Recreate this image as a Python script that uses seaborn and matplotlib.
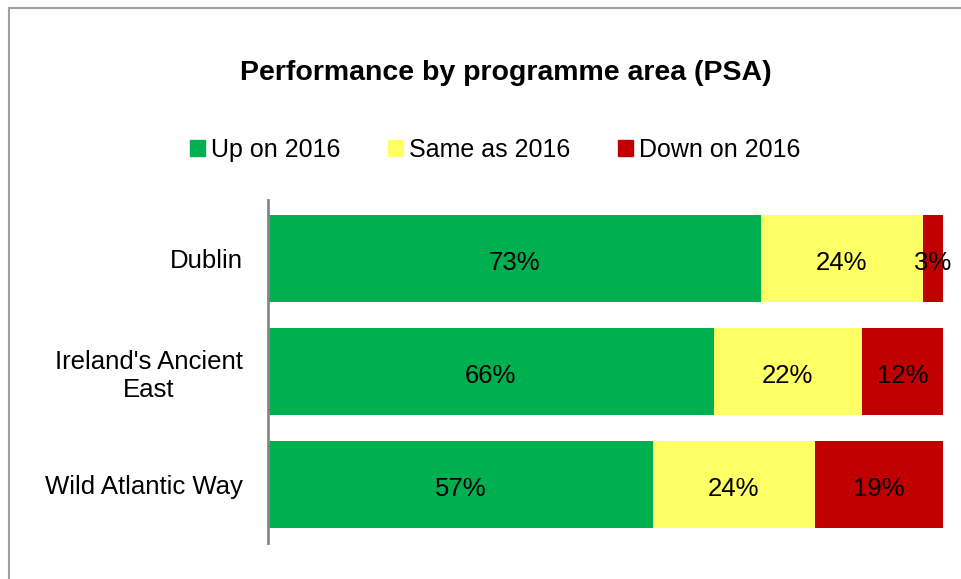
import matplotlib
matplotlib.use("Agg")
import matplotlib.pyplot as plt
import matplotlib.patches as mpatches
import pandas as pd
import seaborn as sns

regions = ["Dublin", "Ireland's Ancient\nEast", "Wild Atlantic Way"]
up = [73, 66, 57]
same = [24, 22, 24]
down = [3, 12, 19]

series_names = ["Up on 2016", "Same as 2016", "Down on 2016"]
colors = ["#00B050", "#FFFF66", "#C00000"]

sns.set_theme(style="white")
plt.rcParams["font.family"] = ["Liberation Sans", "DejaVu Sans"]
plt.rcParams["text.color"] = "black"
plt.rcParams["ytick.color"] = "black"

df = pd.DataFrame({"region": regions, "up": up, "same": same, "down": down})
df["c_up"] = df["up"]
df["c_same"] = df["up"] + df["same"]
df["c_down"] = df["c_same"] + df["down"]

fig = plt.figure(figsize=(9.61, 5.79), dpi=100)
ax = fig.add_axes([268 / 961, 1 - 543 / 579, (943 - 268) / 961, (543 - 200) / 579])

# stacked bars: draw cumulative totals back to front
for col, color in zip(["c_down", "c_same", "c_up"], colors[::-1]):
    sns.barplot(data=df, x=col, y="region", orient="h", color=color,
                width=0.77, saturation=1, ax=ax, linewidth=0)

# segment labels
for i, row in df.iterrows():
    starts = [0, row["c_up"], row["c_same"]]
    vals = [row["up"], row["same"], row["down"]]
    for s, v in zip(starts, vals):
        ax.text(s + v / 2, i + 0.04, f"{v}%", ha="center", va="center",
                fontsize=18.5, color="black")

ax.set_xlim(0, 100)
ax.set_ylim(2.515, -0.515)
ax.set_xlabel("")
ax.set_ylabel("")
ax.set_xticks([])
for side in ["top", "right", "bottom"]:
    ax.spines[side].set_visible(False)
ax.spines["left"].set_color("#868686")
ax.spines["left"].set_linewidth(2)
ax.tick_params(axis="y", length=0, pad=18, labelsize=18.5, labelcolor="black")
for lbl in ax.get_yticklabels():
    lbl.set_multialignment("center")

fig.text(506 / 961, 1 - 73 / 579, "Performance by programme area (PSA)",
         ha="center", va="center", fontsize=20.5, fontweight="bold", color="black")

handles = [mpatches.Patch(color=c, label=n) for c, n in zip(colors, series_names)]
fig.legend(handles=handles, loc="center", bbox_to_anchor=(495 / 961, 1 - 150 / 579),
           ncol=3, frameon=False, fontsize=18, handlelength=0.6, handleheight=0.6,
           handletextpad=0.25, columnspacing=1.9, labelcolor="black")

# outer chart border
fig.patches.append(mpatches.Rectangle((9 / 961, -0.1), 1.1, 1 - 8 / 579 + 0.1,
                                      transform=fig.transFigure, fill=False,
                                      edgecolor="#A0A0A0", linewidth=1.5))

fig.savefig("out.png", dpi=100)
